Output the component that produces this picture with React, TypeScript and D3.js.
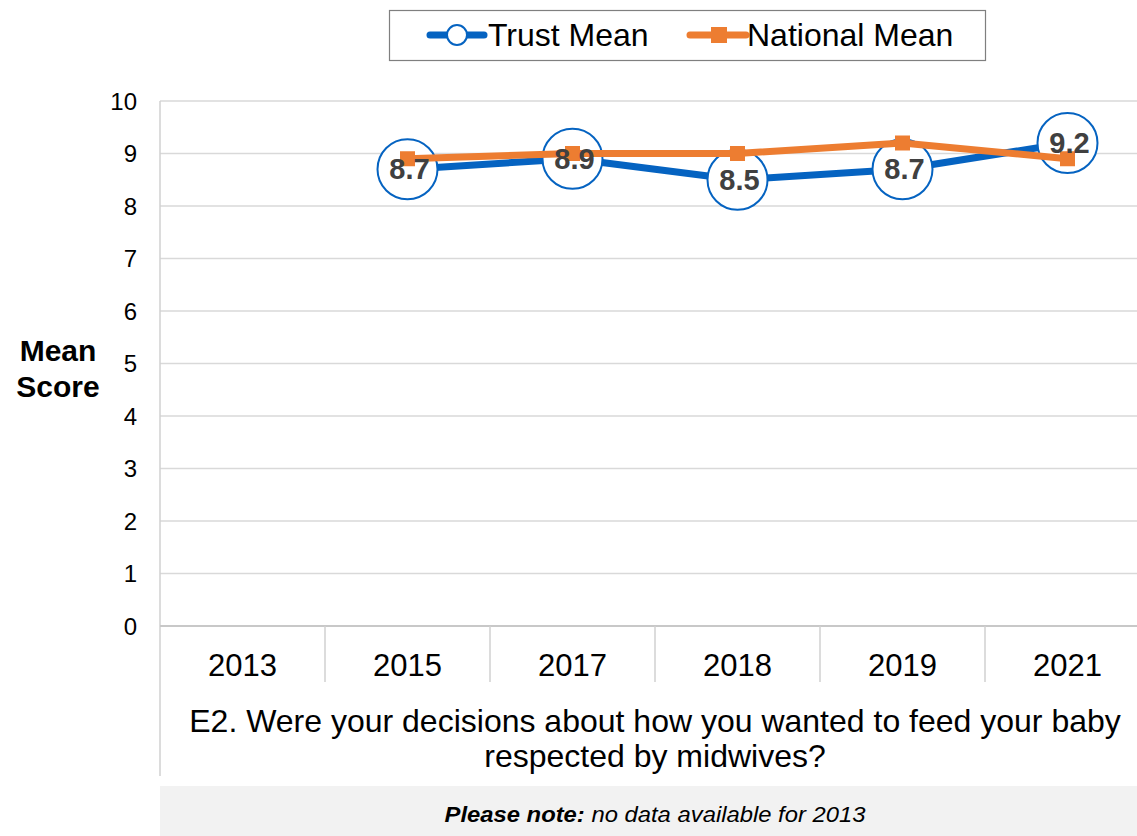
import React from "react";
import * as d3 from "d3";

const categories = ["2013", "2015", "2017", "2018", "2019", "2021"];
const trustMean: (number | null)[] = [null, 8.7, 8.9, 8.5, 8.7, 9.2];
const nationalMean: (number | null)[] = [null, 8.9, 9.0, 9.0, 9.2, 8.9];
const yTicks = [0, 1, 2, 3, 4, 5, 6, 7, 8, 9, 10];

const W = 1137;
const H = 836;
const left = 160;
const right = 1150;
const top = 101;
const bottom = 626;
const FONT = "'Liberation Sans', Arial, sans-serif";
const BLUE = "#0563C1";
const ORANGE = "#ED7D31";

export default function App() {
  const x = d3.scaleBand<string>().domain(categories).range([left, right]);
  const y = d3.scaleLinear().domain([0, 10]).range([bottom, top]);
  const cx = (c: string) => (x(c) as number) + x.bandwidth() / 2;

  const line = d3
    .line<[string, number | null]>()
    .defined((d) => d[1] !== null)
    .x((d) => cx(d[0]))
    .y((d) => y(d[1] as number));

  const trustPairs = categories.map((c, i) => [c, trustMean[i]] as [string, number | null]);
  const natPairs = categories.map((c, i) => [c, nationalMean[i]] as [string, number | null]);
  const trustPts = trustPairs.filter((d) => d[1] !== null);
  const natPts = natPairs.filter((d) => d[1] !== null);

  return (
    <svg
      width={W}
      height={H}
      style={{ position: "absolute", left: 0, top: 0, fontFamily: FONT }}
    >
      <rect width={W} height={H} fill="#fff" />
      {yTicks.map((t) => (
        <line key={t} x1={left} x2={right} y1={y(t)} y2={y(t)} stroke="#d9d9d9" strokeWidth={1.3} />
      ))}
      {yTicks.map((t) => (
        <text key={"l" + t} x={137} y={y(t) + 8.5} textAnchor="end" fontSize={24} fill="#000">
          {t}
        </text>
      ))}
      <line x1={left} x2={left} y1={top} y2={776} stroke="#d0d0d0" strokeWidth={1.5} />
      <line x1={left} x2={right} y1={bottom} y2={bottom} stroke="#c8c8c8" strokeWidth={2} />
      {categories.slice(1).map((c) => (
        <line key={"s" + c} x1={x(c)} x2={x(c)} y1={bottom} y2={682} stroke="#d0d0d0" strokeWidth={1.5} />
      ))}
      {categories.map((c) => (
        <text key={"c" + c} x={cx(c)} y={676} textAnchor="middle" fontSize={31} fill="#000">
          {c}
        </text>
      ))}
      <text x={655} y={732} textAnchor="middle" fontSize={32} fill="#000">
        E2. Were your decisions about how you wanted to feed your baby
      </text>
      <text x={655} y={767} textAnchor="middle" fontSize={32} fill="#000">
        respected by midwives?
      </text>
      <text x={58} y={361} textAnchor="middle" fontSize={30} fontWeight="bold" fill="#000">
        Mean
      </text>
      <text x={58} y={397} textAnchor="middle" fontSize={30} fontWeight="bold" fill="#000">
        Score
      </text>
      <path d={line(trustPairs) || ""} fill="none" stroke={BLUE} strokeWidth={7} strokeLinejoin="round" />
      {trustPts.map((d) => (
        <circle key={"tc" + d[0]} cx={cx(d[0])} cy={y(d[1] as number)} r={30} fill="#fff" stroke={BLUE} strokeWidth={2} />
      ))}
      <path d={line(natPairs) || ""} fill="none" stroke={ORANGE} strokeWidth={7} strokeLinejoin="round" />
      {natPts.map((d) => (
        <rect
          key={"nm" + d[0]}
          x={cx(d[0]) - 7.5}
          y={y(d[1] as number) - 7.5}
          width={15}
          height={15}
          fill={ORANGE}
        />
      ))}
      {trustPts.map((d) => (
        <text
          key={"tl" + d[0]}
          x={cx(d[0]) + 2}
          y={y(d[1] as number) + 10}
          textAnchor="middle"
          fontSize={29}
          fontWeight="bold"
          fill="#404040"
        >
          {(d[1] as number).toFixed(1)}
        </text>
      ))}
      {/* legend */}
      <rect x={389.5} y={10.5} width={596} height={50} fill="#fff" stroke="#7f7f7f" strokeWidth={1.2} />
      <line x1={430} x2={484} y1={35} y2={35} stroke={BLUE} strokeWidth={7} strokeLinecap="round" />
      <circle cx={457} cy={35} r={10} fill="#fff" stroke={BLUE} strokeWidth={2} />
      <text x={488} y={46} fontSize={32} fill="#000">
        Trust Mean
      </text>
      <line x1={690} x2={746} y1={35} y2={35} stroke={ORANGE} strokeWidth={7} strokeLinecap="round" />
      <rect x={711} y={27} width={16} height={16} fill={ORANGE} />
      <text x={747} y={46} fontSize={32} fill="#000">
        National Mean
      </text>
      {/* note */}
      <rect x={160} y={786} width={W - 160} height={50} fill="#f2f2f2" />
      <text x={655} y={822} textAnchor="middle" fontSize={22} fill="#000" fontStyle="italic" textLength={421} lengthAdjust="spacingAndGlyphs">
        <tspan fontWeight="bold">Please note:</tspan> no data available for 2013
      </text>
    </svg>
  );
}
